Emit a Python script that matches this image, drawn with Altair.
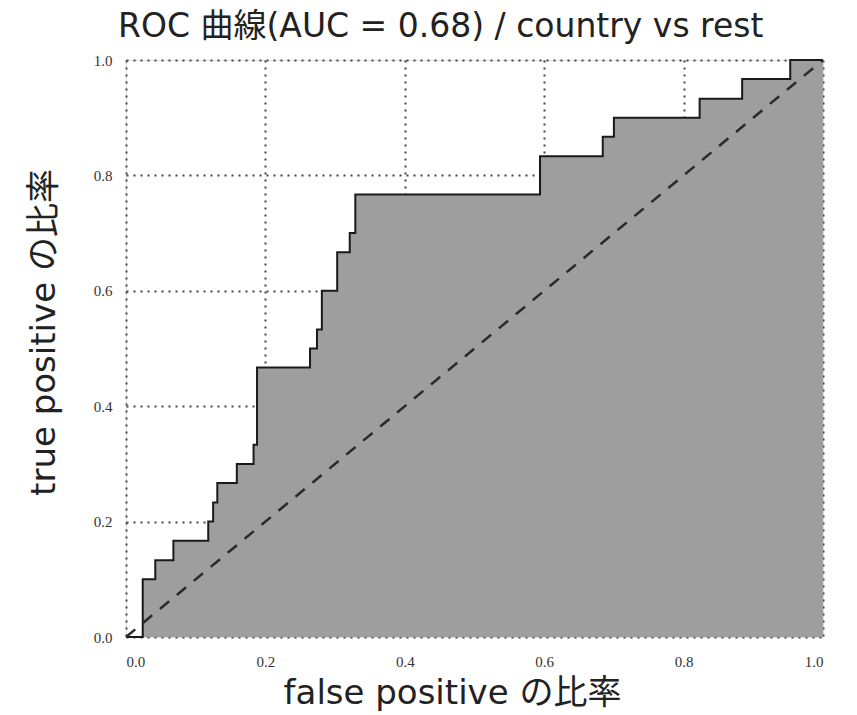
import altair as alt
import pandas as pd

# ROC step points (false positive rate, true positive rate)
fpr = [0.0, 0.024, 0.042, 0.068, 0.118, 0.125, 0.131, 0.159, 0.183, 0.188,
       0.264, 0.274, 0.281, 0.303, 0.321, 0.329, 0.594, 0.684, 0.700, 0.823,
       0.884, 0.953, 1.0]
tpr = [0.0, 0.100, 0.133, 0.167, 0.200, 0.233, 0.267, 0.300, 0.333, 0.467,
       0.500, 0.533, 0.600, 0.667, 0.700, 0.767, 0.833, 0.867, 0.900, 0.933,
       0.967, 1.0, 1.0]
diag = [0.0, 1.0]
ticks = [0.0, 0.2, 0.4, 0.6, 0.8, 1.0]

title_text = "ROC 曲線(AUC = 0.68) / country vs rest"
x_title = "false positive の比率"
y_title = "true positive の比率"

SANS = "'DejaVu Sans', 'Noto Sans CJK JP', sans-serif"
SERIF = "'Liberation Serif', 'DejaVu Serif', serif"

roc = pd.DataFrame({"fpr": fpr, "tpr": tpr})
dg = pd.DataFrame({"fpr": diag, "tpr": diag})

xs = alt.Scale(domain=[0, 1], nice=False, zero=False)
ys = alt.Scale(domain=[0, 1], nice=False, zero=False)

x_axis = alt.Axis(
    values=ticks, format=".1f", title=x_title, ticks=False, domain=False,
    labelFont=SERIF, labelFontSize=15, labelColor="#333", labelPadding=17,
    grid=True, gridColor="#444", gridDash=[2, 5], gridWidth=2,
    titleFont=SANS, titleFontSize=34, titleFontWeight="normal", titleColor="#222",
    titleX=326, titleY=66, titleBaseline="alphabetic", titleAlign="center",
)
y_axis = alt.Axis(
    values=ticks, format=".1f", title=y_title, ticks=False, domain=False,
    labelFont=SERIF, labelFontSize=15, labelColor="#333", labelPadding=14,
    grid=True, gridColor="#444", gridDash=[2, 5], gridWidth=2,
    titleFont=SANS, titleFontSize=34, titleFontWeight="normal", titleColor="#222",
    titleX=-72, titleY=272, titleAngle=270, titleBaseline="alphabetic",
    titleAlign="center",
)

area = alt.Chart(roc).mark_area(
    interpolate="step-after", color="#9e9e9e", opacity=1
).encode(
    x=alt.X("fpr:Q", scale=xs, axis=x_axis),
    y=alt.Y("tpr:Q", scale=ys, axis=y_axis),
)
edge = alt.Chart(roc).mark_line(
    interpolate="step-after", color="#1a1a1a", strokeWidth=2
).encode(x=alt.X("fpr:Q", scale=xs), y=alt.Y("tpr:Q", scale=ys))
diagonal = alt.Chart(dg).mark_line(
    color="#2a2a2a", strokeWidth=2.5, strokeDash=[12, 10]
).encode(x=alt.X("fpr:Q", scale=xs), y=alt.Y("tpr:Q", scale=ys))

chart = alt.layer(area, edge, diagonal).properties(
    width=697, height=577,
    title=alt.TitleParams(
        text=title_text, font=SANS, fontSize=33, fontWeight="normal",
        color="#222", anchor="start", frame="group", dx=-8, dy=36,
        baseline="alphabetic", offset=19,
    ),
    autosize=alt.AutoSizeParams(type="none"),
    padding={"left": 126, "top": 60, "right": 34, "bottom": 78},
).configure_view(
    stroke="#444", strokeWidth=1.5
).configure(background="white")

chart.save("out.html", embed_options={"renderer": "svg", "actions": False})
